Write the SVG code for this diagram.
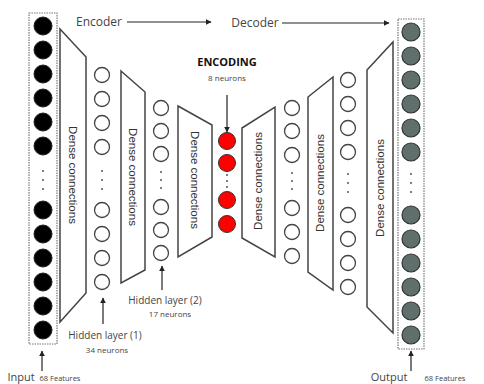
<svg xmlns="http://www.w3.org/2000/svg" width="484" height="384" viewBox="0 0 484 384">
<style>
.trap{fill:#fff;stroke:#444;stroke-width:1.5}
.box{fill:#fff;stroke:#777;stroke-width:1.2;stroke-dasharray:1.5 1}
.in{fill:#000;stroke:#222;stroke-width:1}
.hid{fill:#fff;stroke:#444;stroke-width:1.3}
.enc{fill:#f00;stroke:#333;stroke-width:1}
.out{fill:#5f706c;stroke:#333;stroke-width:1.2}
.dot{fill:#555}
.dc{font-family:"Liberation Sans",Arial,sans-serif;font-size:11.5px;fill:#333;text-anchor:middle}
.lbl{font-family:"Open Sans","Liberation Sans",sans-serif;fill:#444;text-anchor:middle}
.arr{stroke:#222;stroke-width:1.2;fill:none;marker-end:url(#ah)}
</style>
<defs>
<marker id="ah" viewBox="0 0 10 10" refX="9" refY="5" markerWidth="6" markerHeight="6" markerUnits="userSpaceOnUse" orient="auto">
<path d="M0,0 L10,5 L0,10 z" fill="#222"/>
</marker>
</defs>

<g id="input">
<rect class="box" x="29" y="13" width="28" height="331"/>
<circle class="in" cx="43" cy="26" r="9"/>
<circle class="in" cx="43" cy="50" r="9"/>
<circle class="in" cx="43" cy="74" r="9"/>
<circle class="in" cx="43" cy="98" r="9"/>
<circle class="in" cx="43" cy="122" r="9"/>
<circle class="in" cx="43" cy="146" r="9"/>
<circle class="dot" cx="43" cy="171" r="1"/>
<circle class="dot" cx="43" cy="180" r="1"/>
<circle class="dot" cx="43" cy="189" r="1"/>
<circle class="in" cx="43" cy="210" r="9"/>
<circle class="in" cx="43" cy="234" r="9"/>
<circle class="in" cx="43" cy="258" r="9"/>
<circle class="in" cx="43" cy="282" r="9"/>
<circle class="in" cx="43" cy="306" r="9"/>
<circle class="in" cx="43" cy="330" r="9"/>
</g>

<g id="dense1">
<polygon class="trap" points="60,29 86,57 86,293 60,322"/>
<text class="dc" transform="translate(73,175) rotate(90)" dy="0.35em">Dense connections</text>
</g>

<g id="hidden1">
<circle class="hid" cx="102" cy="75" r="7.5"/>
<circle class="hid" cx="102" cy="99" r="7.5"/>
<circle class="hid" cx="102" cy="123" r="7.5"/>
<circle class="hid" cx="102" cy="147" r="7.5"/>
<circle class="dot" cx="102" cy="171" r="1"/>
<circle class="dot" cx="102" cy="180" r="1"/>
<circle class="dot" cx="102" cy="189" r="1"/>
<circle class="hid" cx="102" cy="210" r="7.5"/>
<circle class="hid" cx="102" cy="234" r="7.5"/>
<circle class="hid" cx="102" cy="258" r="7.5"/>
<circle class="hid" cx="102" cy="282" r="7.5"/>
</g>

<g id="dense2">
<polygon class="trap" points="121,71 145,92 145,270 121,283"/>
<text class="dc" transform="translate(133,177) rotate(90)" dy="0.35em">Dense connections</text>
</g>

<g id="hidden2">
<circle class="hid" cx="161" cy="108" r="7.5"/>
<circle class="hid" cx="161" cy="131" r="7.5"/>
<circle class="hid" cx="161" cy="154" r="7.5"/>
<circle class="dot" cx="161" cy="172" r="1"/>
<circle class="dot" cx="161" cy="180" r="1"/>
<circle class="dot" cx="161" cy="188" r="1"/>
<circle class="hid" cx="161" cy="207" r="7.5"/>
<circle class="hid" cx="161" cy="230" r="7.5"/>
<circle class="hid" cx="161" cy="253" r="7.5"/>
</g>

<g id="dense3">
<polygon class="trap" points="178,106 212,125 212,237 178,257"/>
<text class="dc" transform="translate(195,180) rotate(90)" dy="0.35em">Dense connections</text>
</g>

<g id="encoding">
<circle class="enc" cx="227" cy="141" r="8.5"/>
<circle class="enc" cx="227" cy="163" r="8.5"/>
<circle class="dot" cx="227" cy="175" r="1"/>
<circle class="dot" cx="227" cy="181" r="1"/>
<circle class="dot" cx="227" cy="187" r="1"/>
<circle class="enc" cx="227" cy="200" r="8.5"/>
<circle class="enc" cx="227" cy="224" r="8.5"/>
</g>

<g id="dense4">
<polygon class="trap" points="242,128 275,107 275,257 242,238"/>
<text class="dc" transform="translate(258,181) rotate(-90)" dy="0.35em">Dense connections</text>
</g>

<g id="dhidden2">
<circle class="hid" cx="292" cy="108" r="7.5"/>
<circle class="hid" cx="292" cy="131" r="7.5"/>
<circle class="hid" cx="292" cy="155" r="7.5"/>
<circle class="dot" cx="292" cy="173" r="1"/>
<circle class="dot" cx="292" cy="181" r="1"/>
<circle class="dot" cx="292" cy="189" r="1"/>
<circle class="hid" cx="292" cy="208" r="7.5"/>
<circle class="hid" cx="292" cy="232" r="7.5"/>
<circle class="hid" cx="292" cy="256" r="7.5"/>
</g>

<g id="dense5">
<polygon class="trap" points="308,97 333,77 333,290 308,272"/>
<text class="dc" transform="translate(320,183) rotate(-90)" dy="0.35em">Dense connections</text>
</g>

<g id="dhidden1">
<circle class="hid" cx="348" cy="80" r="7.5"/>
<circle class="hid" cx="348" cy="104" r="7.5"/>
<circle class="hid" cx="348" cy="128" r="7.5"/>
<circle class="hid" cx="348" cy="152" r="7.5"/>
<circle class="dot" cx="348" cy="174" r="1"/>
<circle class="dot" cx="348" cy="183" r="1"/>
<circle class="dot" cx="348" cy="192" r="1"/>
<circle class="hid" cx="348" cy="215" r="7.5"/>
<circle class="hid" cx="348" cy="239" r="7.5"/>
<circle class="hid" cx="348" cy="263" r="7.5"/>
<circle class="hid" cx="348" cy="287" r="7.5"/>
</g>

<g id="dense6">
<polygon class="trap" points="367,70 393,42 393,333 367,307"/>
<text class="dc" transform="translate(380,188) rotate(-90)" dy="0.35em">Dense connections</text>
</g>

<g id="output">
<rect class="box" x="398" y="19" width="26" height="330"/>
<circle class="out" cx="411" cy="32" r="9"/>
<circle class="out" cx="411" cy="56" r="9"/>
<circle class="out" cx="411" cy="80" r="9"/>
<circle class="out" cx="411" cy="104" r="9"/>
<circle class="out" cx="411" cy="128" r="9"/>
<circle class="out" cx="411" cy="152" r="9"/>
<circle class="dot" cx="411" cy="174" r="1"/>
<circle class="dot" cx="411" cy="183" r="1"/>
<circle class="dot" cx="411" cy="192" r="1"/>
<circle class="out" cx="411" cy="215" r="9"/>
<circle class="out" cx="411" cy="239" r="9"/>
<circle class="out" cx="411" cy="263" r="9"/>
<circle class="out" cx="411" cy="287" r="9"/>
<circle class="out" cx="411" cy="311" r="9"/>
<circle class="out" cx="411" cy="335" r="9"/>
</g>

<g id="connectors">
<line class="arr" x1="127" y1="22" x2="211" y2="22"/>
<line class="arr" x1="282" y1="23" x2="389" y2="23"/>
<line class="arr" x1="227" y1="95" x2="227" y2="132"/>
<line class="arr" x1="42" y1="371" x2="42" y2="351"/>
<line class="arr" x1="103" y1="324" x2="103" y2="298"/>
<line class="arr" x1="162" y1="290" x2="162" y2="266"/>
<line class="arr" x1="411" y1="371" x2="411" y2="351"/>
</g>

<g id="labels">
<text class="lbl" x="99" y="26" font-size="12">Encoder</text>
<text class="lbl" x="255" y="27" font-size="12">Decoder</text>
<text class="lbl" x="227" y="66" font-size="11" font-weight="bold" style="fill:#111">ENCODING</text>
<text class="lbl" x="227" y="81" font-size="8">8 neurons</text>
<text class="lbl" x="105" y="339" font-size="10">Hidden layer (1)</text>
<text class="lbl" x="107" y="353" font-size="8">34 neurons</text>
<text class="lbl" x="165" y="304" font-size="10">Hidden layer (2)</text>
<text class="lbl" x="170" y="317" font-size="8">17 neurons</text>
<text class="lbl" x="21" y="381" font-size="11">Input</text>
<text class="lbl" x="60" y="381" font-size="7.5">68 Features</text>
<text class="lbl" x="389" y="381" font-size="11">Output</text>
<text class="lbl" x="445" y="381" font-size="7.5">68 Features</text>
</g>
</svg>
